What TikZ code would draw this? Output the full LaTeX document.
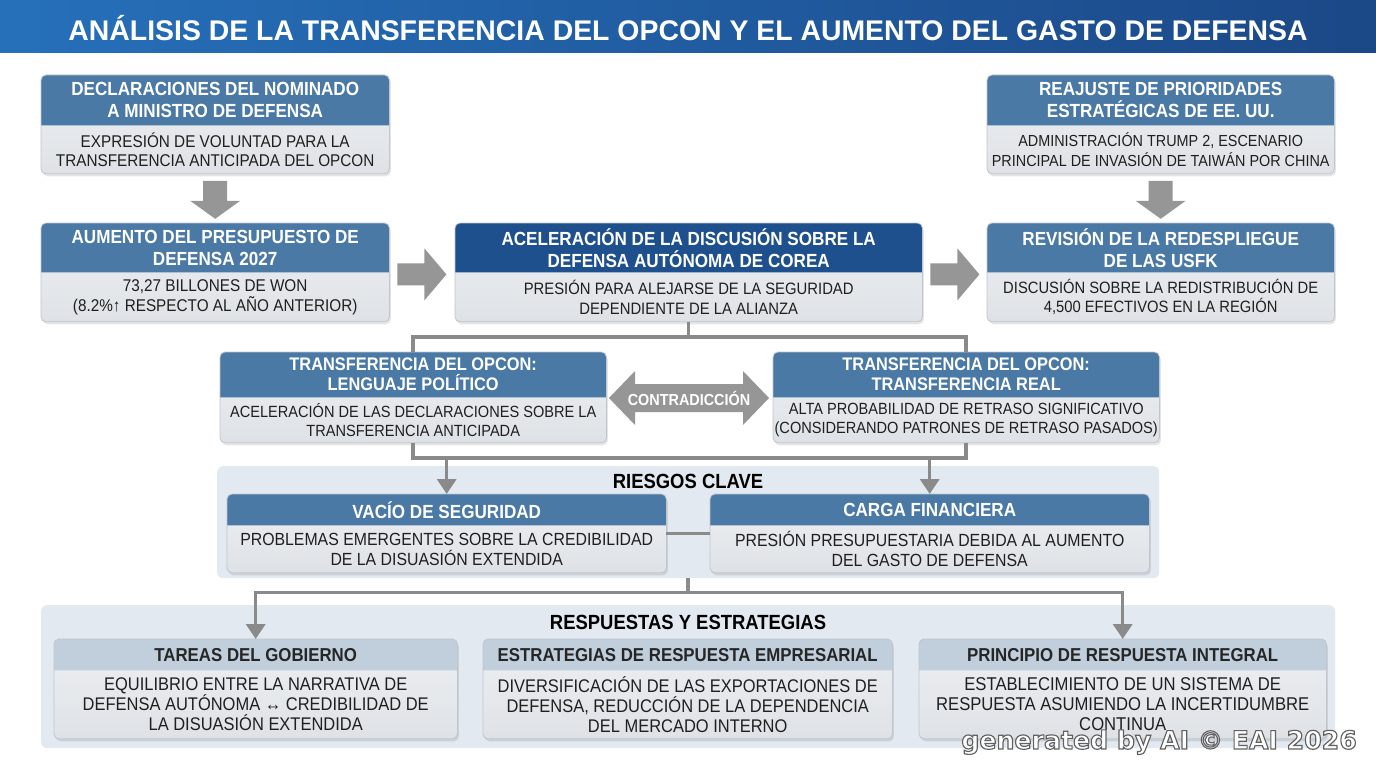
\documentclass[tikz,border=0pt]{standalone}
\usepackage{fontspec}
\setmainfont{Liberation Sans}
\newfontfamily\narrowfont[FakeStretch=0.9]{Liberation Sans}
\newfontfamily\wmfont{DejaVu Sans}
\usetikzlibrary{calc,backgrounds,arrows.meta}
\definecolor{titleL}{RGB}{38,112,186}
\definecolor{titleR}{RGB}{27,72,135}
\definecolor{hblue}{RGB}{74,121,166}
\definecolor{hdark}{RGB}{31,80,142}
\definecolor{hlight}{RGB}{193,207,221}
\definecolor{bodytop}{RGB}{238,240,243}
\definecolor{bodybot}{RGB}{222,226,230}
\definecolor{bodyline}{RGB}{192,198,205}
\definecolor{panelcol}{RGB}{227,233,240}
\definecolor{conngray}{RGB}{138,138,138}
\definecolor{blockgray}{RGB}{150,150,150}
\colorlet{hdtext}{white}
% outlined text: fill + stroke
\newcommand\outlined[1]{\special{pdf:literal direct 2 Tr 1.15 w 0.38 0.38 0.38 RG}#1\special{pdf:literal direct 0 Tr}}
% header size, header baseline, body size, body baseline
\newcommand\sz[4]{\def\hsz{#1}\def\hls{#2}\def\bsz{#3}\def\bls{#4}}
\sz{19}{22}{17}{19.5}
\tikzset{
 hdrtxt/.style={inner sep=1pt, align=center, text=hdtext, font=\narrowfont\bfseries\fontsize{\hsz}{\hls}\selectfont},
 bodytxt/.style={inner sep=1pt, align=center, text=black!88, font=\narrowfont\fontsize{\bsz}{\bls}\selectfont},
 conn/.style={draw=conngray, line width=3.5pt},
 connarrow/.style={conn, -{Triangle[width=19pt,length=15pt]}},
 panel/.style={fill=panelcol, rounded corners=6pt, inner sep=0pt},
 paneltitle/.style={inner sep=0pt, text=black, font=\narrowfont\bfseries\fontsize{20.5}{23}\selectfont},
 wmtext/.style={inner sep=0pt, anchor=base east, font=\wmfont\bfseries\fontsize{25.2}{28}\selectfont},
 pics/downblock/.style={code={\fill[blockgray] (-12,0) -- (12,0) -- (12,20) -- (25,20) -- (0,38) -- (-25,20) -- (-12,20) -- cycle;}},
 pics/rightblock/.style={code={\fill[blockgray] (0,-11) -- (27,-11) -- (27,-26) -- (49,0) -- (27,26) -- (27,11) -- (0,11) -- cycle;}},
}
% name, x, y, width, header height, body height, header colour, header text, body text
\newcommand\tbox[9]{%
 \node[hdrtxt, minimum width=#4, minimum height=#5, anchor=north west] (#1h) at (#2,#3) {#8};
 \node[bodytxt, minimum width=#4, minimum height=#6, anchor=north] (#1b) at (#1h.south) {#9};
 \begin{pgfonlayer}{background}
  \fill[black, opacity=0.10, rounded corners=5pt] ($(#1h.north west)+(1.5,2.5)$) rectangle ($(#1b.south east)+(1.5,2.5)$);
  \shade[top color=bodytop, bottom color=bodybot, rounded corners=5pt] (#1h.north west) rectangle (#1b.south east);
  \fill[#7] (#1h.south west) [rounded corners=5pt] -- (#1h.north west) -- (#1h.north east) [sharp corners] -- (#1h.south east) -- cycle;
  \draw[bodyline, line width=0.8pt, rounded corners=5pt] (#1h.north west) rectangle (#1b.south east);
 \end{pgfonlayer}}
\begin{document}
\begin{tikzpicture}[x=1pt,y=-1pt]
\useasboundingbox (0,0) rectangle (1376,768);
\begin{pgfonlayer}{background}
 \fill[white] (0,0) rectangle (1376,768);
 \shade[left color=titleL, right color=titleR] (0,0) rectangle (1376,53);
 \node[panel, minimum width=942, minimum height=112, anchor=north west] (rp) at (217,466) {};
 \node[panel, minimum width=1294, minimum height=143, anchor=north west] (rsp) at (41,605) {};
\end{pgfonlayer}
\node[inner sep=0pt, text=white, font=\bfseries\fontsize{28.4}{32}\selectfont] (title) at (688,28) {ANÁLISIS DE LA TRANSFERENCIA DEL OPCON Y EL AUMENTO DEL GASTO DE DEFENSA};

% top rows
\sz{19}{22}{17}{19.5}
\tbox{d1}{41}{75}{348}{50}{48}{hblue}{DECLARACIONES DEL NOMINADO\\A MINISTRO DE DEFENSA}{EXPRESIÓN DE VOLUNTAD PARA LA\\TRANSFERENCIA ANTICIPADA DEL OPCON}
\sz{19}{22}{16}{19.5}
\tbox{ra}{987}{75}{347}{50}{48}{hblue}{REAJUSTE DE PRIORIDADES\\ESTRATÉGICAS DE EE. UU.}{ADMINISTRACIÓN TRUMP 2, ESCENARIO\\PRINCIPAL DE INVASIÓN DE TAIWÁN POR CHINA}
\sz{19}{22}{17}{19.5}
\tbox{d2}{41}{223}{348}{49}{49}{hblue}{AUMENTO DEL PRESUPUESTO DE\\DEFENSA 2027}{73,27 BILLONES DE WON\\(8.2\%↑ RESPECTO AL AÑO ANTERIOR)}
\sz{19}{22}{16.5}{19.5}
\tbox{ce}{455}{223}{467}{49}{49}{hdark}{ACELERACIÓN DE LA DISCUSIÓN SOBRE LA\\DEFENSA AUTÓNOMA DE COREA}{PRESIÓN PARA ALEJARSE DE LA SEGURIDAD\\DEPENDIENTE DE LA ALIANZA}
\sz{19}{22}{16.4}{19.5}
\tbox{rv}{987}{223}{347}{49}{49}{hblue}{REVISIÓN DE LA REDESPLIEGUE\\DE LAS USFK}{DISCUSIÓN SOBRE LA REDISTRIBUCIÓN DE\\4,500 EFECTIVOS EN LA REGIÓN}

% block arrows
\pic at ($(d1b.south)+(0,7)$) {downblock};
\pic at ($(rab.south)+(0,7)$) {downblock};
\pic at ($(d2h.south east)+(8,2)$) {rightblock};
\pic at ($(ceh.south east)+(8,2)$) {rightblock};

% OPCON row
\sz{18.2}{20}{16.2}{19.5}
\tbox{ol}{220}{352}{386}{45}{45}{hblue}{TRANSFERENCIA DEL OPCON:\\LENGUAJE POLÍTICO}{ACELERACIÓN DE LAS DECLARACIONES SOBRE LA\\TRANSFERENCIA ANTICIPADA}
\tbox{or}{773}{352}{386}{45}{45}{hblue}{TRANSFERENCIA DEL OPCON:\\TRANSFERENCIA REAL}{ALTA PROBABILIDAD DE RETRASO SIGNIFICATIVO\\(CONSIDERANDO PATRONES DE RETRASO PASADOS)}

\node[inner sep=0pt, text=white, font=\narrowfont\bfseries\fontsize{16}{18}\selectfont] (ct) at (689,398) {CONTRADICCIÓN};
\begin{pgfonlayer}{background}
 \fill[blockgray, shift={(ct.center)}] (-80,0) -- (-54,-27) -- (-54,-14) -- (54,-14) -- (54,-27) -- (80,0) -- (54,27) -- (54,14) -- (-54,14) -- (-54,27) -- cycle;
\end{pgfonlayer}

% risks
\node[paneltitle] (rt) at (688,481) {RIESGOS CLAVE};
\sz{19}{22}{17.6}{20}
\tbox{vs}{227}{494}{439}{31}{47}{hblue}{VACÍO DE SEGURIDAD}{PROBLEMAS EMERGENTES SOBRE LA CREDIBILIDAD\\DE LA DISUASIÓN EXTENDIDA}
\tbox{cf}{710}{494}{439}{31}{47}{hblue}{CARGA FINANCIERA}{PRESIÓN PRESUPUESTARIA DEBIDA AL AUMENTO\\DEL GASTO DE DEFENSA}

% responses
\node[paneltitle] (st) at (688,622) {RESPUESTAS Y ESTRATEGIAS};
\colorlet{hdtext}{black!85}
\sz{18.7}{21}{18.3}{20}
\tbox{tg}{54}{639}{403}{31}{68}{hlight}{TAREAS DEL GOBIERNO}{EQUILIBRIO ENTRE LA NARRATIVA DE\\DEFENSA AUTÓNOMA ↔ CREDIBILIDAD DE\\LA DISUASIÓN EXTENDIDA}
\tbox{er}{483}{639}{409}{31}{68}{hlight}{ESTRATEGIAS DE RESPUESTA EMPRESARIAL}{DIVERSIFICACIÓN DE LAS EXPORTACIONES DE\\DEFENSA, REDUCCIÓN DE LA DEPENDENCIA\\DEL MERCADO INTERNO}
\sz{18.7}{21}{18.5}{20}
\tbox{pr}{919}{639}{407}{31}{68}{hlight}{PRINCIPIO DE RESPUESTA INTEGRAL}{ESTABLECIMIENTO DE UN SISTEMA DE\\RESPUESTA ASUMIENDO LA INCERTIDUMBRE\\CONTINUA}

% connectors
\coordinate (j1) at ($(ceb.south)+(0,15)$);
\draw[conn] (ceb.south) -- (j1);
\draw[conn] (olh.north) |- (j1) -| (orh.north);
\coordinate (j2) at ($(olb.south)+(0,15)$);
\draw[conn] (olb.south) -- (j2) -| (orb.south);
\draw[connarrow] (vsh.north |- j2) -- (vsh.north);
\draw[connarrow] (cfh.north |- j2) -- (cfh.north);
\draw[conn] ($(vsb.north east)+(0,8)$) -- ($(cfb.north west)+(0,8)$);
\coordinate (j3) at ($(rp.south)+(0,14)$);
\draw[conn] (rp.south) -- (j3);
\draw[connarrow] (j3) -| (tgh.north);
\draw[connarrow] (j3) -| (prh.north);

% watermark
\node[wmtext, text=white] (wm) at (1357,749) {\outlined{generated by AI © EAI 2026}};
\end{tikzpicture}
\end{document}
